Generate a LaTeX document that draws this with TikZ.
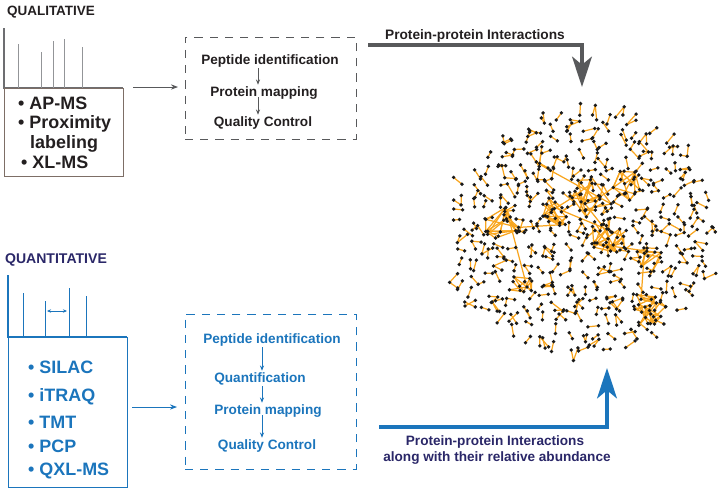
\documentclass[tikz,border=0pt]{standalone}
\usepackage{fontspec}
\setmainfont{Liberation Sans}
\usetikzlibrary{arrows.meta,fit,calc}
\definecolor{navy}{HTML}{2A2768}
\definecolor{qblue}{HTML}{1B75BC}
\definecolor{dgray}{HTML}{58595B}
\definecolor{sgray}{HTML}{6D6E71}
\definecolor{pgray}{HTML}{939598}
\definecolor{boxbrown}{HTML}{7D6E66}
\definecolor{ink}{HTML}{231F20}
\definecolor{edgeorange}{HTML}{F8A51E}
\definecolor{dotblack}{HTML}{1A1A1A}
\newcommand\netgridpass[1]{%
  \pgfmathsetseed{11}%
  \foreach \gx in {0,...,20}{
    \foreach \gy in {0,...,20}{
      \pgfmathsetmacro\px{446+\gx*13.6+rand*3.5}
      \pgfmathsetmacro\py{105+\gy*12.8+rand*3.5}
      \pgfmathsetmacro\ins{((\px-582)/134)^2+((\py-233)/124)^2}
      \ifdim\ins pt<1pt
        \pgfmathsetmacro\ang{rnd*360}
        \pgfmathsetmacro\len{6+rnd*6}
        \coordinate (np) at (\px,\py);
        \coordinate (nq) at ($(np)+(\ang:\len)$);
        \ifnum#1=0 \draw[netedge] (np) -- (nq);\else \fill[netdot] (np) circle (1.9) (nq) circle (1.9);\fi
        \pgfmathtruncatemacro\ext{rnd<0.35 ? 1 : 0}
        \pgfmathsetmacro\angb{\ang+70+rnd*220}
        \pgfmathsetmacro\lenb{7+rnd*8}
        \ifnum\ext=1
          \coordinate (nr) at ($(nq)+(\angb:\lenb)$);
          \ifnum#1=0 \draw[netedge] (nq) -- (nr);\else \fill[netdot] (nr) circle (1.9);\fi
        \fi
      \fi
    }
  }%
}
\begin{document}
\begin{tikzpicture}[x=0.03cm,y=-0.03cm,
  titletext/.style={font=\fontsize{11.5}{13}\selectfont\bfseries, anchor=base, inner sep=0pt},
  listtext/.style={font=\fontsize{15.3}{18}\selectfont\bfseries, anchor=base west, inner sep=0pt},
  steptext/.style={font=\fontsize{11.6}{14}\selectfont\bfseries, anchor=base, inner sep=1pt},
  steparrow/.style={-{Stealth[length=4.5pt,width=3.5pt]}, line width=0.6pt},
  flowarrow/.style={-{Stealth[length=6pt,width=4.5pt]}, line width=0.7pt},
  bigarrow/.style={-{Stealth[length=26pt,width=17pt,inset=7pt]}, line width=2.6pt},
  dashbox/.style={draw, dash pattern=on 7pt off 6pt, line width=0.7pt, inner sep=0pt},
  netedge/.style={draw=edgeorange, line width=1.05pt},
  netdot/.style={fill=dotblack},
  axisline/.style={line width=2.2pt},
  peakline/.style={line width=0.7pt}
]
\useasboundingbox (0,0) rectangle (724,490);

% ---------------- QUALITATIVE ----------------
\node[titletext, text=ink] (qualtitle) at (51,15) {QUALITATIVE};
\draw[axisline, sgray] (4,28) -- (4,88) -- (123,88);
\foreach \x/\t in {18/44, 41/52, 53/41, 64/39, 82/47}
  \draw[peakline, pgray] (\x,88) -- (\x,\t);
\node[fit={(4,88)(123,176)}, draw=boxbrown, line width=0.7pt, inner sep=0pt] (qualbox) {};
\node[listtext, text=ink] (qual1) at (18,109) {• AP-MS};
\node[listtext, text=ink] (qual2) at (18,128) {• Proximity};
\node[listtext, text=ink] (qual3) at (30,148) {labeling};
\node[listtext, text=ink] (qual4) at (21,168) {• XL-MS};

\coordinate (qualarrowS) at (133,87);
\coordinate (qualarrowE) at (178,87);
\draw[flowarrow, dgray] (qualarrowS) -- (qualarrowE);

\node[dashbox, draw=dgray, fit={(185,37)(356,139)}] (qualflow) {};
\node[steptext, text=ink] (t1) at (270,64) {Peptide identification};
\node[steptext, text=ink] (t2) at (264,96) {Protein mapping};
\node[steptext, text=ink] (t3) at (263,126) {Quality Control};
\coordinate (tx) at (258,0);
\draw[steparrow, dgray] (t1.south -| tx) -- (t2.north -| tx);
\draw[steparrow, dgray] (t2.base -| tx) ++(0,1) -- (t3.north -| tx);

% ---------------- QUANTITATIVE ----------------
\node[titletext, text=navy, font=\fontsize{12}{14}\selectfont\bfseries] (quanttitle) at (56,263) {QUANTITATIVE};
\draw[axisline, qblue] (8,275) -- (8,337) -- (127,337);
\foreach \x/\t in {23/293, 45/301, 69/288, 86/296}
  \draw[peakline, qblue] (\x,337) -- (\x,\t);
\coordinate (dl) at (47,311);
\coordinate (dr) at (67,311);
\draw[{Stealth[length=3.5pt,width=3pt]}-{Stealth[length=3.5pt,width=3pt]}, line width=0.6pt, qblue] (dl) -- (dr);
\node[fit={(8,337)(127,487)}, draw=qblue, line width=0.7pt, inner sep=0pt] (quantbox) {};
\node[listtext, text=qblue] (quant1) at (28,373) {• SILAC};
\node[listtext, text=qblue] (quant2) at (28,401) {• iTRAQ};
\node[listtext, text=qblue] (quant3) at (28,428) {• TMT};
\node[listtext, text=qblue] (quant4) at (28,452) {• PCP};
\node[listtext, text=qblue] (quant5) at (28,475) {• QXL-MS};

\coordinate (quantarrowS) at (132,407);
\coordinate (quantarrowE) at (177,407);
\draw[flowarrow, qblue] (quantarrowS) -- (quantarrowE);

\node[dashbox, draw=qblue, fit={(185,314)(356,469)}] (quantflow) {};
\node[steptext, text=qblue] (b1) at (272,343) {Peptide identification};
\node[steptext, text=qblue] (b2) at (260,382) {Quantification};
\node[steptext, text=qblue] (b3) at (268,414) {Protein mapping};
\node[steptext, text=qblue] (b4) at (267,449) {Quality Control};
\coordinate (bx) at (262,0);
\draw[steparrow, qblue] (b1.south -| bx) -- (b2.north -| bx);
\draw[steparrow, qblue] (b2.south -| bx) -- (b3.north -| bx);
\draw[steparrow, qblue] (b3.base -| bx) ++(0,1) -- (b4.north -| bx);

% ---------------- big arrows ----------------
\coordinate (ppiS) at (368,45);
\coordinate (netTop) at (582,87);
\draw[bigarrow, dgray] (ppiS) -| (netTop);
\node[titletext, text=ink, font=\fontsize{11.7}{14}\selectfont\bfseries] (ppilabel) at (475,39) {Protein-protein Interactions};

\coordinate (qppiS) at (379,427);
\coordinate (netBot) at (607,368);
\draw[bigarrow, qblue] (qppiS) -| (netBot);
\node[titletext, text=navy, font=\fontsize{11.6}{14}\selectfont\bfseries] (qlabel1) at (495,445) {Protein-protein Interactions};
\node[titletext, text=navy, font=\fontsize{11.6}{14}\selectfont\bfseries] (qlabel2) at (497,461) {along with their relative abundance};

% ---------------- network ----------------
\netgridpass{0}
\pgfmathsetseed{5}
\foreach \cx/\cy/\cr/\cn [count=\ci] in {595/195/24/15, 607/237/20/13, 503/226/19/12, 647/308/20/14, 560/213/20/10, 648/260/16/8, 520/285/16/7, 626/185/16/7, 540/160/16/7}{
  \foreach \i in {1,...,\cn}{
    \pgfmathsetmacro\ang{rnd*360}
    \pgfmathsetmacro\rr{\cr*sqrt(rnd)}
    \coordinate (h\ci-\i) at ({\cx+\rr*cos(\ang)},{\cy+\rr*sin(\ang)});
  }
}
\foreach \cn [count=\ci] in {15,13,12,14,10,8,7,7,7}{
  \foreach \i in {1,...,\cn}{
    \foreach \k in {1,2}{
      \pgfmathtruncatemacro\j{1+int(rnd*\cn)}
      \draw[netedge] (h\ci-\i) -- (h\ci-\j);
    }
  }
}
\draw[netedge] (h3-1) -- (h5-1) (h5-2) -- (h1-1) (h1-3) -- (h2-1) (h2-4) -- (h6-1)
  (h6-2) -- (h4-1) (h9-1) -- (h1-5) (h8-1) -- (h1-2) (h7-1) -- (h3-2) (h5-3) -- (h2-2);
\netgridpass{1}
\foreach \cn [count=\ci] in {15,13,12,14,10,8,7,7,7}{
  \foreach \i in {1,...,\cn}
    \fill[netdot] (h\ci-\i) circle (1.9);
}
\end{tikzpicture}
\end{document}
